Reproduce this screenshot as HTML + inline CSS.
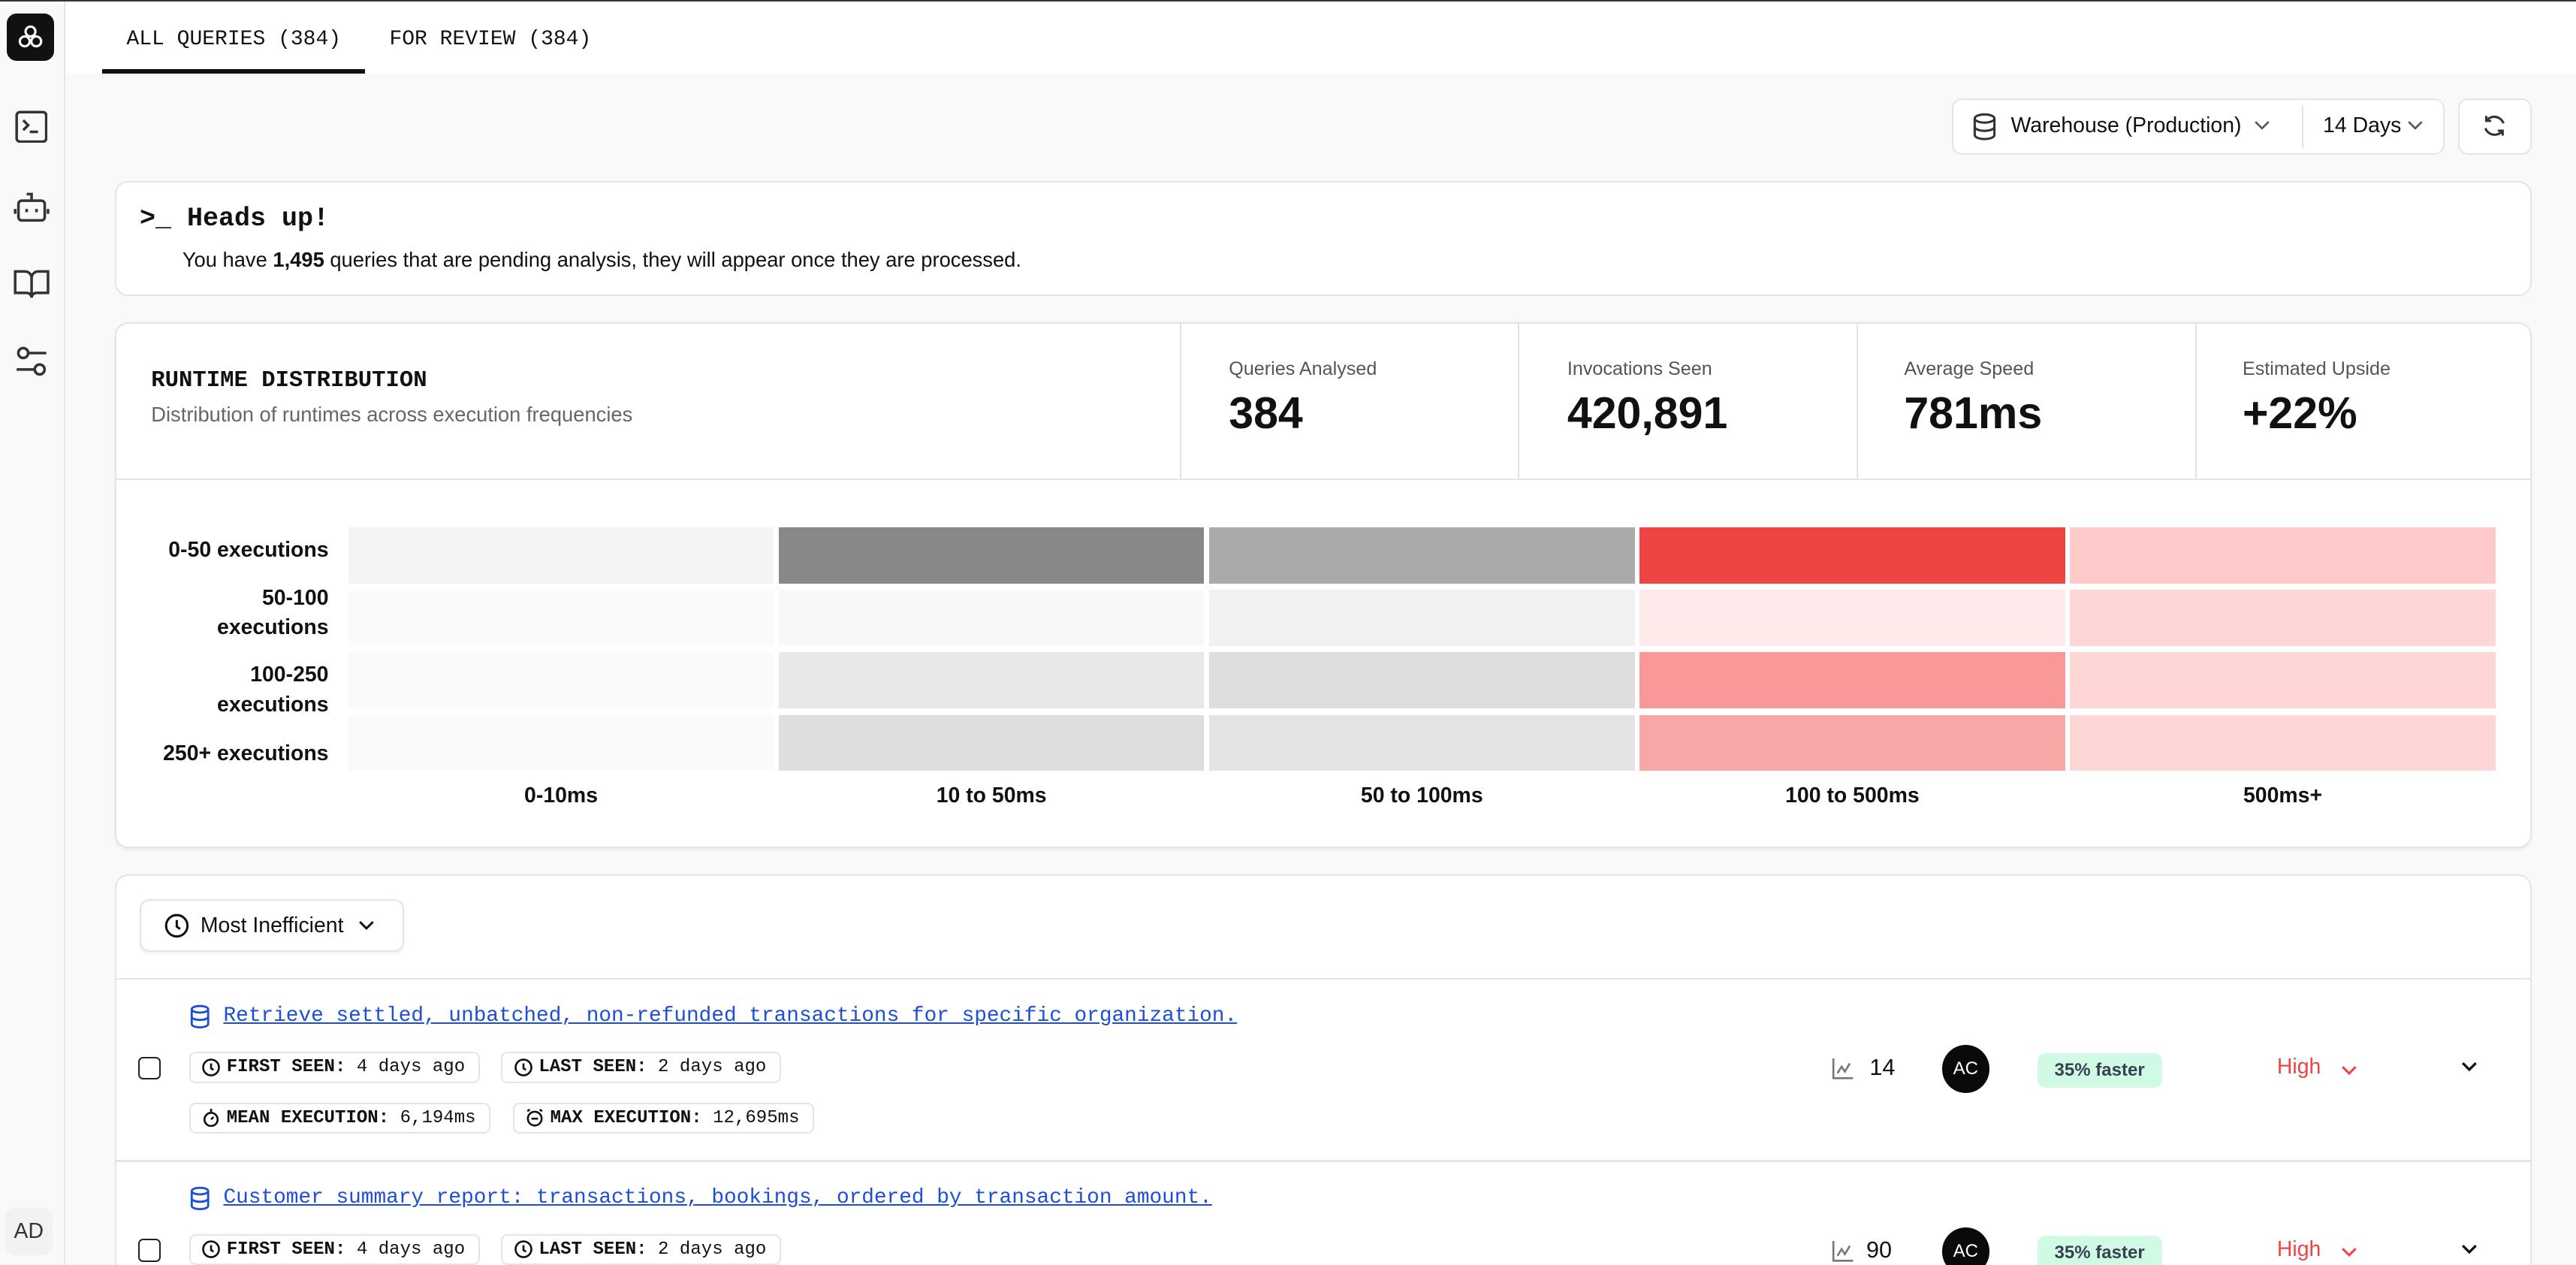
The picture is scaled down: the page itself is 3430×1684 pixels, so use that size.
<!DOCTYPE html>
<html><head><meta charset="utf-8">
<style>
html,body{margin:0;padding:0;}
html{width:3430px;height:1684px;overflow:hidden}
body{width:1568px;height:770px;overflow:hidden;zoom:2.1875;background:#f8f9fa;font-family:"Liberation Sans",sans-serif;color:#111;position:relative}
.a{position:absolute}
.mono{font-family:"Liberation Mono",monospace}
.card{position:absolute;background:#fff;border:1px solid #e3e4e6;border-radius:8px;box-sizing:border-box}
.cell{position:absolute;height:34px;width:259px}
.rl{position:absolute;width:130px;left:70px;text-align:right;font-size:13px;font-weight:bold;line-height:18px}
.cl{position:absolute;width:259px;text-align:center;font-size:13px;font-weight:bold;top:477px}
.chip{position:absolute;height:19px;border:1px solid #e3e4e6;border-radius:4px;box-sizing:border-box;font-family:"Liberation Mono",monospace;font-size:11px;line-height:17px;padding:0 8px 0 22px;white-space:nowrap}
.chip b{font-weight:bold}
.chip svg{position:absolute;left:7px;top:3px}
.stat{position:absolute;top:218px;font-size:11.5px;color:#555}
.sv{position:absolute;top:236px;font-size:27px;font-weight:bold}
.link{color:#1d4ed8;text-decoration:underline;font-family:"Liberation Mono",monospace;font-size:12.7px}
</style></head><body>
<div class="a" style="left:0;top:0;width:1568px;height:1px;background:#333"></div>
<div class="a" style="left:0;top:1px;width:39px;height:769px;background:#f8f9fa;border-right:1px solid #e5e5e5"></div>
<div class="a" style="left:4px;top:8px;width:29px;height:29px;background:#111;border-radius:6px"></div>
<svg class="a" style="left:10px;top:14px" width="17" height="17" viewBox="0 0 17 17" fill="none" stroke="#fff" stroke-width="1.4"><circle cx="8.5" cy="5" r="3"/><circle cx="5" cy="11" r="3"/><circle cx="12" cy="11" r="3"/></svg>
<svg class="a" style="left:9px;top:67px" width="20" height="20" fill="none" stroke="#333" stroke-width="1.6"><rect x="1" y="1" width="18" height="18" rx="2"/><path d="M5 6l3 3-3 3M9 13h5"/></svg>
<svg class="a" style="left:8px;top:116px" width="22" height="20" fill="none" stroke="#333" stroke-width="1.6"><rect x="3" y="6" width="16" height="12" rx="2"/><path d="M11 6V2h-3M1 11v3M21 11v3M8 11v2M14 11v2"/></svg>
<svg class="a" style="left:8px;top:163px" width="22" height="20" fill="none" stroke="#333" stroke-width="1.6"><path d="M1 2h6a4 4 0 0 1 4 4v12a3 3 0 0 0-3-3H1zM21 2h-6a4 4 0 0 0-4 4v12a3 3 0 0 1 3-3h7z"/></svg>
<svg class="a" style="left:9px;top:210px" width="20" height="20" fill="none" stroke="#333" stroke-width="1.6"><circle cx="5" cy="5" r="3"/><path d="M8 5h11M1 15h11"/><circle cx="15" cy="15" r="3"/></svg>
<div class="a" style="left:3px;top:735px;width:29px;height:29px;border-radius:6px;background:#f1f2f3;font-size:13px;line-height:29px;text-align:center;color:#333">AD</div>
<div class="a" style="left:40px;top:1px;width:1528px;height:44px;background:#fff"></div>
<div class="a mono" style="left:77px;top:17px;font-size:12.8px">ALL QUERIES (384)</div>
<div class="a mono" style="left:237px;top:17px;font-size:12.8px">FOR REVIEW (384)</div>
<div class="a" style="left:62px;top:42px;width:160px;height:3px;background:#111"></div>
<div class="card" style="left:1188px;top:60px;width:300px;height:34px;border-radius:6px"></div>
<svg class="a" style="left:1200px;top:68px" width="16" height="18" fill="none" stroke="#333" stroke-width="1.4"><ellipse cx="8" cy="4" rx="6" ry="2.5"/><path d="M2 4v10c0 1.4 2.7 2.5 6 2.5s6-1.1 6-2.5V4M2 9c0 1.4 2.7 2.5 6 2.5s6-1.1 6-2.5"/></svg>
<div class="a" style="left:1224px;top:69px;font-size:13px">Warehouse (Production)</div>
<svg class="a" style="left:1372px;top:73px" width="10" height="6" fill="none" stroke="#555" stroke-width="1.2"><path d="M1 1l4 4 4-4"/></svg>
<div class="a" style="left:1401px;top:64px;width:1px;height:26px;background:#e3e4e6"></div>
<div class="a" style="left:1414px;top:69px;font-size:13px">14 Days</div>
<svg class="a" style="left:1465px;top:73px" width="10" height="6" fill="none" stroke="#555" stroke-width="1.2"><path d="M1 1l4 4 4-4"/></svg>
<div class="card" style="left:1496px;top:60px;width:45px;height:34px;border-radius:6px"></div>
<svg class="a" style="left:1511px;top:69px" width="15" height="15" fill="none" stroke="#333" stroke-width="1.4"><path d="M13 6A6 6 0 0 0 2.5 4.5M2 9a6 6 0 0 0 10.5 1.5M2.5 1.5v3h3M12.5 13.5v-3h-3"/></svg>
<div class="card" style="left:70px;top:110px;width:1471px;height:70px"></div>
<div class="a mono" style="left:85px;top:124px;font-size:16px;font-weight:bold">&gt;_ Heads up!</div>
<div class="a" style="left:111px;top:151px;font-size:12.5px">You have <b>1,495</b> queries that are pending analysis, they will appear once they are processed.</div>
<div class="card" style="left:70px;top:196px;width:1471px;height:320px;box-shadow:0 1px 2px rgba(0,0,0,.06)"></div>
<div class="a" style="left:71px;top:291px;width:1469px;height:1px;background:#e3e4e6"></div>
<div class="a" style="left:718px;top:197px;width:1px;height:94px;background:#e3e4e6"></div>
<div class="a" style="left:924px;top:197px;width:1px;height:94px;background:#e3e4e6"></div>
<div class="a" style="left:1130px;top:197px;width:1px;height:94px;background:#e3e4e6"></div>
<div class="a" style="left:1336px;top:197px;width:1px;height:94px;background:#e3e4e6"></div>
<div class="a mono" style="left:92px;top:224px;font-size:14px;font-weight:bold">RUNTIME DISTRIBUTION</div>
<div class="a" style="left:92px;top:245px;font-size:12.5px;color:#666">Distribution of runtimes across execution frequencies</div>
<div class="stat" style="left:748px">Queries Analysed</div><div class="sv" style="left:748px">384</div>
<div class="stat" style="left:954px">Invocations Seen</div><div class="sv" style="left:954px">420,891</div>
<div class="stat" style="left:1159px">Average Speed</div><div class="sv" style="left:1159px">781ms</div>
<div class="stat" style="left:1365px">Estimated Upside</div><div class="sv" style="left:1365px">+22%</div>
<div class="cell" style="left:212px;top:321px;background:#f3f4f4"></div>
<div class="cell" style="left:474px;top:321px;background:#888"></div>
<div class="cell" style="left:736px;top:321px;background:#aaa"></div>
<div class="cell" style="left:998px;top:321px;background:#ef4444"></div>
<div class="cell" style="left:1260px;top:321px;background:#fecaca"></div>
<div class="cell" style="left:212px;top:359px;background:#fafafa"></div>
<div class="cell" style="left:474px;top:359px;background:#f8f8f8"></div>
<div class="cell" style="left:736px;top:359px;background:#f1f1f1"></div>
<div class="cell" style="left:998px;top:359px;background:#feeaea"></div>
<div class="cell" style="left:1260px;top:359px;background:#fed6d6"></div>
<div class="cell" style="left:212px;top:397px;background:#fafafa"></div>
<div class="cell" style="left:474px;top:397px;background:#e8e8e8"></div>
<div class="cell" style="left:736px;top:397px;background:#dedede"></div>
<div class="cell" style="left:998px;top:397px;background:#f89898"></div>
<div class="cell" style="left:1260px;top:397px;background:#fed6d6"></div>
<div class="cell" style="left:212px;top:435px;background:#fafafa"></div>
<div class="cell" style="left:474px;top:435px;background:#dedede"></div>
<div class="cell" style="left:736px;top:435px;background:#e4e4e4"></div>
<div class="cell" style="left:998px;top:435px;background:#f8a6a6"></div>
<div class="cell" style="left:1260px;top:435px;background:#fed6d6"></div>
<div class="rl" style="top:326px">0-50 executions</div>
<div class="rl" style="top:355px">50-100<br>executions</div>
<div class="rl" style="top:402px">100-250<br>executions</div>
<div class="rl" style="top:450px">250+ executions</div>
<div class="cl" style="left:212px">0-10ms</div>
<div class="cl" style="left:474px">10 to 50ms</div>
<div class="cl" style="left:736px">50 to 100ms</div>
<div class="cl" style="left:998px">100 to 500ms</div>
<div class="cl" style="left:1260px">500ms+</div>
<div class="card" style="left:70px;top:532px;width:1471px;height:250px"></div>
<div class="card" style="left:85px;top:547px;width:161px;height:32px;border-radius:6px;box-shadow:0 1px 2px rgba(0,0,0,.06)"></div>
<svg class="a" style="left:100px;top:556px" width="15" height="15" fill="none" stroke="#111" stroke-width="1.4"><circle cx="7.5" cy="7.5" r="6.5"/><path d="M7.5 4v4l2 1.5"/></svg>
<div class="a" style="left:122px;top:556px;font-size:13px">Most Inefficient</div>
<svg class="a" style="left:218px;top:560px" width="10" height="6" fill="none" stroke="#111" stroke-width="1.3"><path d="M1 1l4 4 4-4"/></svg>
<div class="a" style="left:71px;top:595px;width:1469px;height:1px;background:#e3e4e6"></div>
<div class="a" style="left:71px;top:706px;width:1469px;height:1px;background:#e3e4e6"></div>
<svg class="a" style="left:115px;top:611px" width="13" height="15" fill="none" stroke="#1d4ed8" stroke-width="1.3"><ellipse cx="6.5" cy="3" rx="5" ry="2"/><path d="M1.5 3v9c0 1.1 2.2 2 5 2s5-.9 5-2V3M1.5 7.5c0 1.1 2.2 2 5 2s5-.9 5-2"/></svg>
<div class="a link" style="left:136px;top:611px">Retrieve settled, unbatched, non-refunded transactions for specific organization.</div>
<div class="a" style="left:84px;top:643px;width:14px;height:14px;border:1.3px solid #222;border-radius:3px;box-sizing:border-box"></div>
<div class="chip" style="left:115px;top:640px"><svg width="11" height="11" fill="none" stroke="#111" stroke-width="1.2"><circle cx="5.5" cy="5.5" r="4.8"/><path d="M5.5 3v3l1.5 1"/></svg><b>FIRST SEEN:</b> 4 days ago</div>
<div class="chip" style="left:305px;top:640px"><svg width="11" height="11" fill="none" stroke="#111" stroke-width="1.2"><circle cx="5.5" cy="5.5" r="4.8"/><path d="M5.5 3v3l1.5 1"/></svg><b>LAST SEEN:</b> 2 days ago</div>
<div class="chip" style="left:115px;top:671px"><svg width="11" height="11" fill="none" stroke="#111" stroke-width="1.2"><circle cx="5.5" cy="6.5" r="4"/><path d="M5.5 0v2M5.5 6.5l1.5-1.5"/></svg><b>MEAN EXECUTION:</b> 6,194ms</div>
<div class="chip" style="left:312px;top:671px"><svg width="11" height="11" fill="none" stroke="#111" stroke-width="1.2"><circle cx="5.5" cy="6" r="4.2"/><path d="M3.5 6h4M1 1.5l1.5-1M10 1.5l-1.5-1"/></svg><b>MAX EXECUTION:</b> 12,695ms</div>
<svg class="a" style="left:1115px;top:644px" width="13" height="13" fill="none" stroke="#777" stroke-width="1.2"><path d="M1 0v12h12M3.5 9l2.5-4 2 3 3-5"/></svg>
<div class="a" style="left:1138px;top:642px;font-size:14px">14</div>
<div class="a" style="left:1182px;top:636px;width:29px;height:29px;border-radius:50%;background:#0a0a0a;color:#fff;font-size:11px;line-height:29px;text-align:center">AC</div>
<div class="a" style="left:1240px;top:641px;width:76px;height:21px;border-radius:5px;background:#d1fae5;color:#374151;font-size:11px;font-weight:bold;line-height:21px;text-align:center">35% faster</div>
<div class="a" style="left:1386px;top:642px;font-size:13px;color:#ef4444">High</div>
<svg class="a" style="left:1425px;top:648px" width="10" height="7" fill="none" stroke="#ef4444" stroke-width="1.4"><path d="M1 1l4 4 4-4"/></svg>
<svg class="a" style="left:1498px;top:646px" width="10" height="7" fill="none" stroke="#111" stroke-width="1.5"><path d="M1 1l4 4 4-4"/></svg>
<svg class="a" style="left:115px;top:722px" width="13" height="15" fill="none" stroke="#1d4ed8" stroke-width="1.3"><ellipse cx="6.5" cy="3" rx="5" ry="2"/><path d="M1.5 3v9c0 1.1 2.2 2 5 2s5-.9 5-2V3M1.5 7.5c0 1.1 2.2 2 5 2s5-.9 5-2"/></svg>
<div class="a link" style="left:136px;top:722px">Customer summary report: transactions, bookings, ordered by transaction amount.</div>
<div class="a" style="left:84px;top:754px;width:14px;height:14px;border:1.3px solid #222;border-radius:3px;box-sizing:border-box"></div>
<div class="chip" style="left:115px;top:751px"><svg width="11" height="11" fill="none" stroke="#111" stroke-width="1.2"><circle cx="5.5" cy="5.5" r="4.8"/><path d="M5.5 3v3l1.5 1"/></svg><b>FIRST SEEN:</b> 4 days ago</div>
<div class="chip" style="left:305px;top:751px"><svg width="11" height="11" fill="none" stroke="#111" stroke-width="1.2"><circle cx="5.5" cy="5.5" r="4.8"/><path d="M5.5 3v3l1.5 1"/></svg><b>LAST SEEN:</b> 2 days ago</div>
<svg class="a" style="left:1115px;top:755px" width="13" height="13" fill="none" stroke="#777" stroke-width="1.2"><path d="M1 0v12h12M3.5 9l2.5-4 2 3 3-5"/></svg>
<div class="a" style="left:1136px;top:753px;font-size:14px">90</div>
<div class="a" style="left:1182px;top:747px;width:29px;height:29px;border-radius:50%;background:#0a0a0a;color:#fff;font-size:11px;line-height:29px;text-align:center">AC</div>
<div class="a" style="left:1240px;top:752px;width:76px;height:21px;border-radius:5px;background:#d1fae5;color:#374151;font-size:11px;font-weight:bold;line-height:21px;text-align:center">35% faster</div>
<div class="a" style="left:1386px;top:753px;font-size:13px;color:#ef4444">High</div>
<svg class="a" style="left:1425px;top:759px" width="10" height="7" fill="none" stroke="#ef4444" stroke-width="1.4"><path d="M1 1l4 4 4-4"/></svg>
<svg class="a" style="left:1498px;top:757px" width="10" height="7" fill="none" stroke="#111" stroke-width="1.5"><path d="M1 1l4 4 4-4"/></svg>
</body></html>
